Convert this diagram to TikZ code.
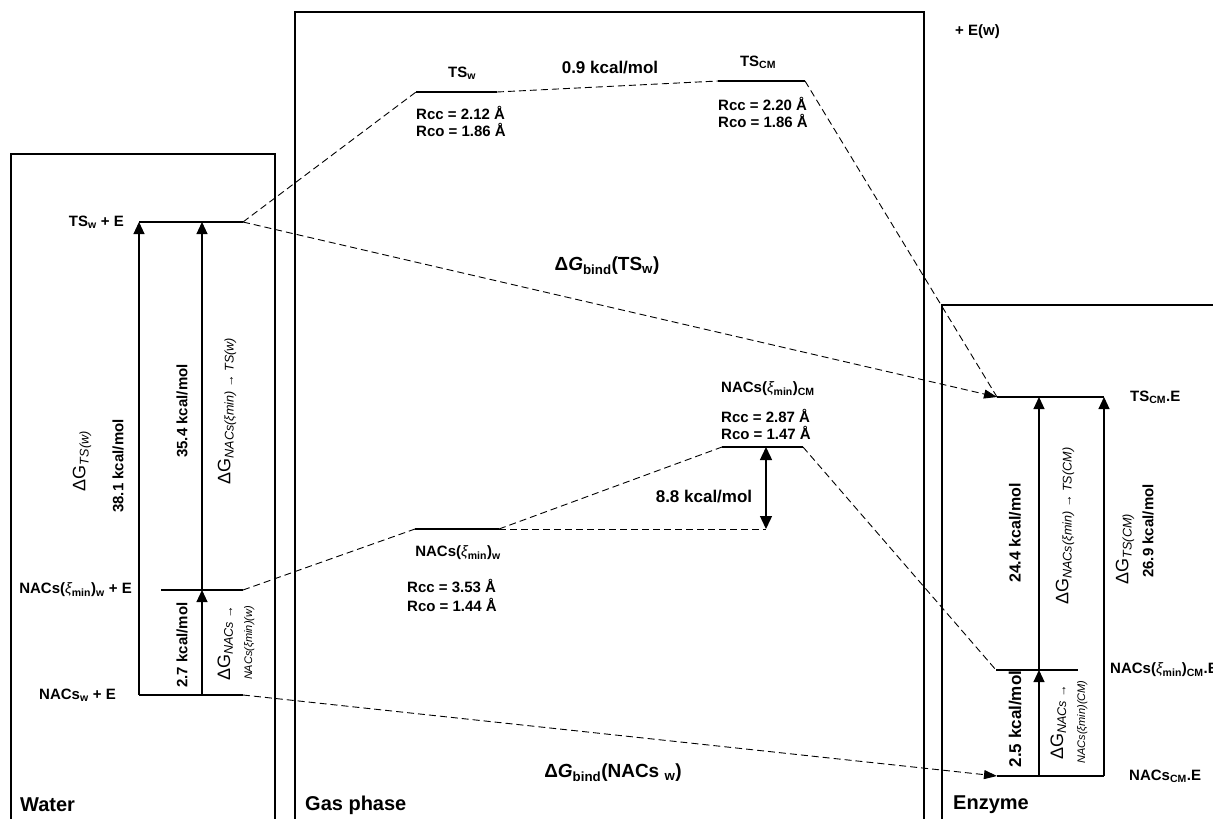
\documentclass[tikz,border=0pt]{standalone}
\usepackage{fontspec}
\setmainfont{Liberation Sans}
\usetikzlibrary{arrows.meta}
\newcommand{\ximin}{{\mdseries\itshape ξ}\textsubscript{min}}

\begin{document}
\begin{tikzpicture}[x=1pt,y=-1pt,
  frame/.style={line width=1.1pt},
  level/.style={line width=1.8pt},
  link/.style={line width=0.9pt,dash pattern=on 7pt off 4pt},
  linkarrow/.style={link,-{Triangle[length=13pt,width=9pt]}},
  rise/.style={line width=1.1pt,-{Triangle[length=12pt,width=11pt]}},
  lbl/.style={inner sep=0pt,font=\fontsize{15}{17}\selectfont\bfseries},
  big/.style={inner sep=0pt,font=\fontsize{17}{19}\selectfont\bfseries},
  panel/.style={inner sep=0pt,anchor=west,font=\fontsize{20}{22}\selectfont\bfseries},
  dg/.style={inner sep=0pt,rotate=90,align=center,font=\fontsize{18}{20}\selectfont},
  vlbl/.style={lbl,rotate=90}]

\useasboundingbox (0,0) rectangle (1213,819);

\draw[frame] (11,819) -- (11,154) -- (275,154) -- (275,819);
\draw[frame] (295,819) -- (295,12) -- (924,12) -- (924,819);
\draw[frame] (942,819) -- (942,305) -- (1213,305);

% water levels
\coordinate (TSwEl) at (139,222);  \coordinate (TSwEm) at (202,222);  \coordinate (TSwEr) at (243,222);
\coordinate (NXwEl) at (161,590);  \coordinate (NXwEm) at (202,590);  \coordinate (NXwEr) at (243,590);
\coordinate (NwEl) at (139,695);   \coordinate (NwEm) at (202,695);   \coordinate (NwEr) at (243,695);
\draw[level] (TSwEl) -- (TSwEr);
\draw[frame] (NXwEl) -- (NXwEr);
\draw[level] (NwEl) -- (NwEr);
\draw[rise] (NwEl) -- (TSwEl);
\draw[rise] (NwEm) -- (NXwEm);
\draw[rise] (NXwEm) -- (TSwEm);

% gas phase levels
\coordinate (TSwl) at (416,92);    \coordinate (TSwr) at (497,92);
\coordinate (TScml) at (718,81);   \coordinate (TScmr) at (805,81);
\coordinate (NXwl) at (415,529);   \coordinate (NXwr) at (499,529);
\coordinate (NXcml) at (722,447);  \coordinate (NXcmr) at (803,447);
\coordinate (gapt) at (766,447);   \coordinate (gapb) at (766,529);
\draw[level] (TSwl) -- (TSwr);
\draw[level] (TScml) -- (TScmr);
\draw[level] (NXwl) -- (NXwr);
\draw[level] (NXcml) -- (NXcmr);
\draw[line width=1.4pt,{Triangle[length=13pt,width=12pt]}-{Triangle[length=13pt,width=12pt]}] (gapt) -- (gapb);

% enzyme levels
\coordinate (TScmEl) at (997,397); \coordinate (TScmEm) at (1039,397); \coordinate (TScmEr) at (1104,397);
\coordinate (NXcmEl) at (996,670); \coordinate (NXcmEm) at (1039,670); \coordinate (NXcmEr) at (1078,670);
\coordinate (NcmEl) at (997,776);  \coordinate (NcmEm) at (1039,776);  \coordinate (NcmEr) at (1104,776);
\draw[level] (TScmEl) -- (TScmEr);
\draw[frame] (NXcmEl) -- (NXcmEr);
\draw[level] (NcmEl) -- (NcmEr);
\draw[rise] (NcmEr) -- (TScmEr);
\draw[rise] (NcmEm) -- (NXcmEm);
\draw[rise] (NXcmEm) -- (TScmEm);

% dashed links
\draw[link] (TSwEr) -- (TSwl);
\draw[link] (TSwr) -- (TScml);
\draw[link] (TScmr) -- (TScmEl);
\draw[linkarrow] (TSwEr) -- (TScmEl);
\draw[link] (NXwEr) -- (NXwl);
\draw[link] (NXwr) -- (NXcml);
\draw[link] (NXwr) -- (gapb);
\draw[link] (NXcmr) -- (NXcmEl);
\draw[linkarrow] (NwEr) -- (NcmEl);

% water labels
\node[lbl,anchor=east] (tswE) at (124,222) {TS\textsubscript{w} + E};
\node[lbl,anchor=east] (nxwE) at (132,590) {NACs(\ximin)\textsubscript{w} + E};
\node[lbl,anchor=east] (nwE) at (116,695) {NACs\textsubscript{w} + E};
\node[dg] (dgtsw) at (82,461) {ΔG\textsubscript{\textit{TS(w)}}};
\node[vlbl] (e381) at (118,466) {38.1 kcal/mol};
\node[vlbl] (e354) at (182,411) {35.4 kcal/mol};
\node[dg] (dgnxtsw) at (227,411) {ΔG\textsubscript{\textit{NACs(ξmin) → TS(w)}}};
\node[vlbl] (e27) at (182,645) {2.7 kcal/mol};
\node[dg] (dgnnxw) at (236,643) {ΔG\textsubscript{\textit{NACs} →}\\[2pt]{\fontsize{11}{12}\selectfont\itshape NACs(ξmin)(w)}};

% gas phase labels
\node[lbl] (tsw) at (462,73) {TS\textsubscript{w}};
\node[big] (e09) at (610,68) {0.9 kcal/mol};
\node[lbl] (tscm) at (758,62) {TS\textsubscript{CM}};
\node[lbl,anchor=west,align=left] (rtsw) at (416,121) {Rcc = 2.12 Å\\Rco = 1.86 Å};
\node[lbl,anchor=west,align=left] (rtscm) at (718,112) {Rcc = 2.20 Å\\Rco = 1.86 Å};
\node[lbl] (nxw) at (458,553) {NACs(\ximin)\textsubscript{w}};
\node[lbl,anchor=west,align=left] (rnxw) at (407,595) {Rcc = 3.53 Å\\[2pt]Rco = 1.44 Å};
\node[lbl,anchor=west] (nxcm) at (721,389) {NACs(\ximin)\textsubscript{CM}};
\node[lbl,anchor=west,align=left] (rnxcm) at (721,424) {Rcc = 2.87 Å\\Rco = 1.47 Å};
\node[big] (e88) at (704,497) {8.8 kcal/mol};
\node[big,font=\fontsize{19}{21}\selectfont\bfseries] (bindts) at (607,266) {Δ\textit{G}\textsubscript{bind}(TS\textsubscript{w})};
\node[big,font=\fontsize{19}{21}\selectfont\bfseries] (bindn) at (613,773) {Δ\textit{G}\textsubscript{bind}(NACs \textsubscript{w})};
\node[lbl,anchor=west] (ew) at (955,32) {+ E(w)};

% enzyme labels
\node[lbl,anchor=west] (tscmE) at (1130,397) {TS\textsubscript{CM}.E};
\node[lbl,anchor=west] (nxcmE) at (1110,670) {NACs(\ximin)\textsubscript{CM}.E};
\node[lbl,anchor=west] (ncmE) at (1129,776) {NACs\textsubscript{CM}.E};
\node[vlbl,font=\fontsize{16}{18}\selectfont\bfseries] (e244) at (1015,533) {24.4 kcal/mol};
\node[dg] (dgnxtscm) at (1065,526) {ΔG\textsubscript{\textit{NACs(ξmin) → TS(CM)}}};
\node[dg] (dgtscm) at (1125,549) {ΔG\textsubscript{\textit{TS(CM)}}};
\node[vlbl] (e269) at (1148,531) {26.9 kcal/mol};
\node[vlbl,font=\fontsize{17}{19}\selectfont\bfseries] (e25) at (1015,719) {2.5 kcal/mol};
\node[dg] (dgnnxcm) at (1069,722) {ΔG\textsubscript{\textit{NACs} →}\\[2pt]{\fontsize{11}{12}\selectfont\itshape NACs(ξmin)(CM)}};

% panel names
\node[panel] (water) at (20,805) {Water};
\node[panel] (gas) at (305,805) {Gas phase};
\node[panel] (enz) at (953,805) {Enzyme};
\end{tikzpicture}
\end{document}
